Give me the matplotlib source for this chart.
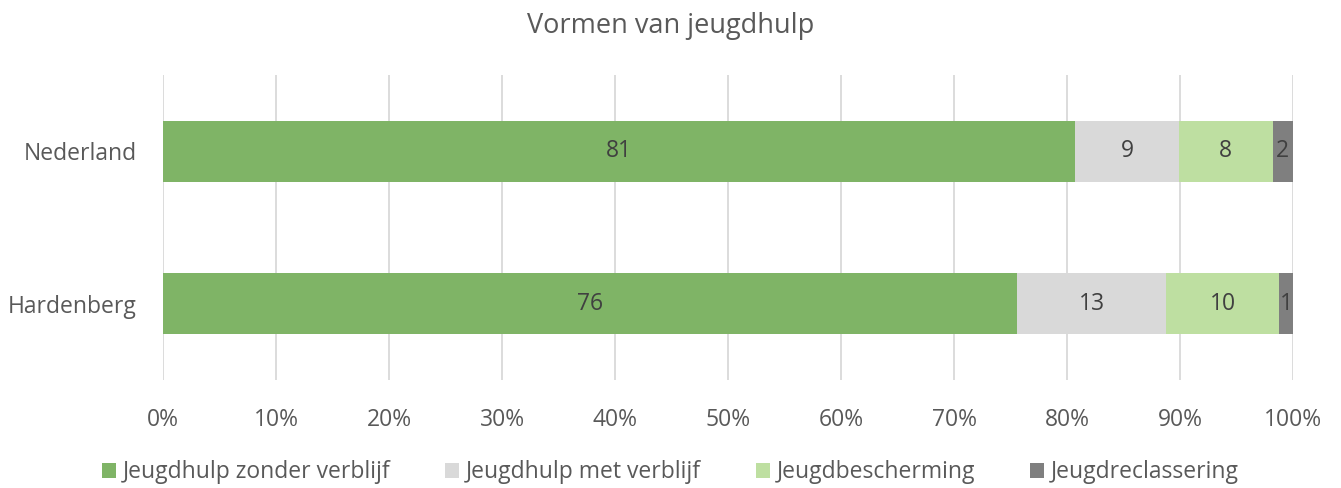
import matplotlib
matplotlib.use("Agg")
import matplotlib.pyplot as plt
import numpy as np

categories = ["Nederland", "Hardenberg"]
series = ["Jeugdhulp zonder verblijf", "Jeugdhulp met verblijf", "Jeugdbescherming", "Jeugdreclassering"]
values = {
    "Jeugdhulp zonder verblijf": [80.7, 75.6],
    "Jeugdhulp met verblijf": [9.2, 13.2],
    "Jeugdbescherming": [8.3, 10.0],
    "Jeugdreclassering": [1.8, 1.2],
}
labels = {
    "Jeugdhulp zonder verblijf": [81, 76],
    "Jeugdhulp met verblijf": [9, 13],
    "Jeugdbescherming": [8, 10],
    "Jeugdreclassering": [2, 1],
}
colors = ["#7FB466", "#D9D9D9", "#BEDFA1", "#7F7F7F"]

plt.rcParams['font.family'] = ['Open Sans', 'DejaVu Sans']
txt = "#595959"

fig = plt.figure(figsize=(13.41, 4.88), dpi=100)
ax = fig.add_axes([163/1341, 108/488, 1130/1341, 305/488])

y = np.arange(len(categories))
left = np.zeros(len(categories))
for s, c in zip(series, colors):
    v = np.array(values[s])
    tot = np.array([sum(values[k][i] for k in series) for i in range(len(categories))])
    w = v / tot
    bars = ax.barh(y, w, left=left, height=0.4, color=c, zorder=3, label=s)
    for i, b in enumerate(bars):
        ax.text(left[i] + w[i] / 2, y[i], str(labels[s][i]), ha="center", va="center",
                fontsize=16.5, color="#404040", zorder=4)
    left = left + w

ax.set_xlim(0, 1)
ax.set_ylim(1.5, -0.5)
ax.set_yticks(y)
ax.set_yticklabels(categories, fontsize=16.5, color=txt)
ax.set_xticks(np.linspace(0, 1, 11))
ax.set_xticklabels([f"{int(p)}%" for p in np.linspace(0, 100, 11)], fontsize=16.5, color=txt)
ax.tick_params(axis="both", length=0)
ax.tick_params(axis="x", pad=20)
ax.tick_params(axis="y", pad=19)
ax.grid(axis="x", color="#D9D9D9", linewidth=1.3, zorder=0)
for sp in ax.spines.values():
    sp.set_visible(False)

fig.suptitle("Vormen van jeugdhulp", x=0.5, y=0.975, fontsize=19.5, color=txt)
fig.legend(loc="lower center", bbox_to_anchor=(0.5, -0.035), ncol=4, frameon=False,
           fontsize=16.5, labelcolor=txt, handlelength=0.6, handleheight=0.6,
           handletextpad=0.3, columnspacing=2.4)

fig.savefig("out.png", dpi=100)
